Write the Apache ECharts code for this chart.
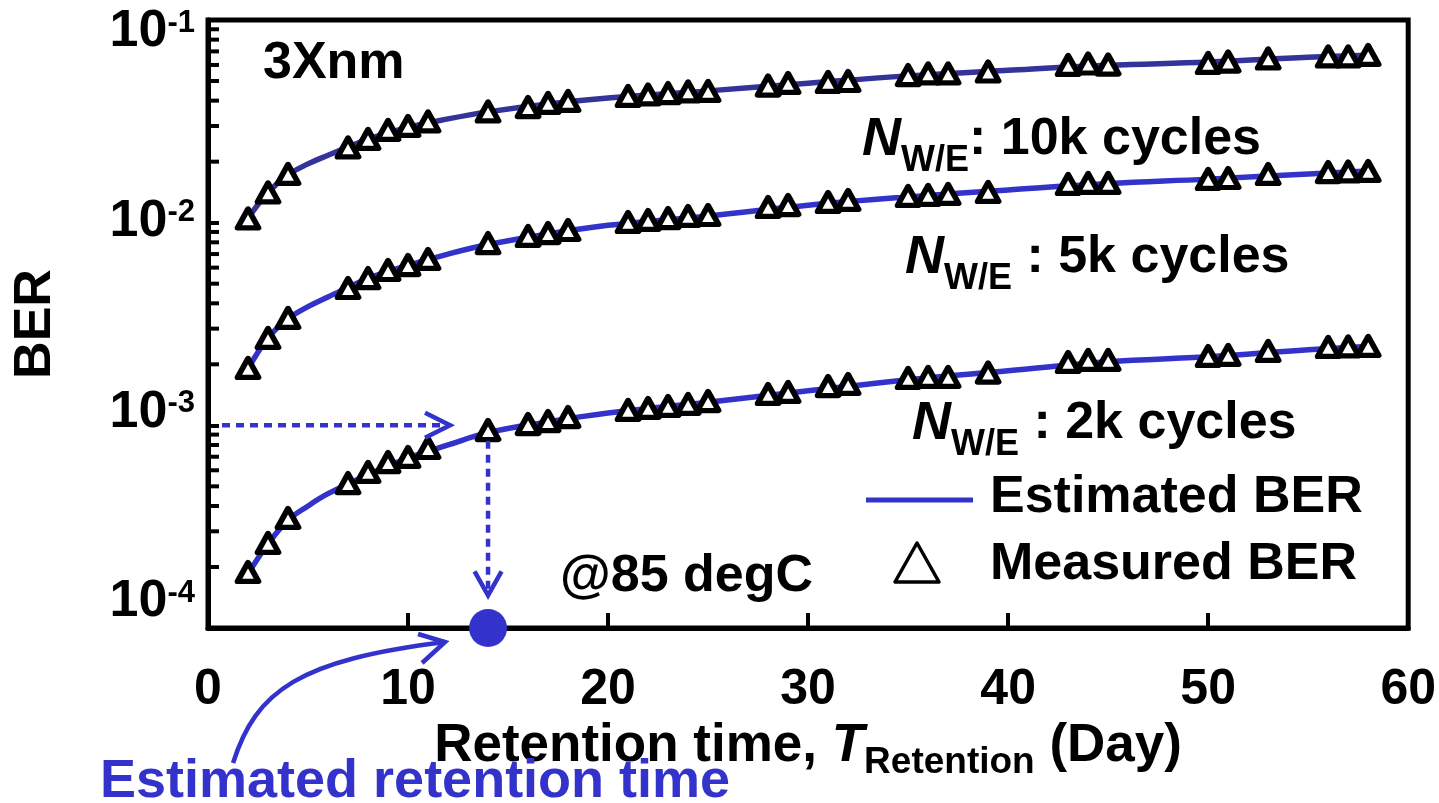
<!DOCTYPE html>
<html><head><meta charset="utf-8">
<script src="https://cdn.jsdelivr.net/npm/echarts@6/dist/echarts.min.js"></script>
<style>html,body{margin:0;padding:0;background:#fff}#c{width:1439px;height:803px}</style>
</head><body><div id="c"></div>
<script>
// ---------------- data ----------------
const days = [2,3,4,7,8,9,10,11,14,16,17,18,21,22,23,24,25,28,29,31,32,35,36,37,39,43,44,45,50,51,53,56,57,58];
const ber10k = [1.05e-2,1.41e-2,1.74e-2,2.35e-2,2.59e-2,2.87e-2,3.0e-2,3.16e-2,3.54e-2,3.72e-2,3.9e-2,3.99e-2,4.22e-2,4.29e-2,4.36e-2,4.44e-2,4.47e-2,4.75e-2,4.89e-2,4.95e-2,5.0e-2,5.35e-2,5.45e-2,5.45e-2,5.57e-2,6.0e-2,6.1e-2,6.03e-2,6.14e-2,6.24e-2,6.46e-2,6.61e-2,6.61e-2,6.72e-2];
const ber5k = [1.92e-3,2.70e-3,3.39e-3,4.76e-3,5.33e-3,5.84e-3,6.18e-3,6.62e-3,7.93e-3,8.60e-3,8.89e-3,9.20e-3,1.008e-2,1.031e-2,1.054e-2,1.079e-2,1.091e-2,1.195e-2,1.222e-2,1.265e-2,1.294e-2,1.355e-2,1.370e-2,1.386e-2,1.418e-2,1.553e-2,1.570e-2,1.570e-2,1.643e-2,1.661e-2,1.739e-2,1.778e-2,1.789e-2,1.799e-2];
const ber2k = [1.89e-4,2.63e-4,3.49e-4,5.19e-4,5.89e-4,6.59e-4,6.98e-4,7.73e-4,9.48e-4,1.015e-3,1.050e-3,1.099e-3,1.191e-3,1.218e-3,1.246e-3,1.275e-3,1.318e-3,1.428e-3,1.461e-3,1.563e-3,1.600e-3,1.713e-3,1.733e-3,1.733e-3,1.822e-3,2.054e-3,2.102e-3,2.102e-3,2.199e-3,2.225e-3,2.329e-3,2.437e-3,2.451e-3,2.465e-3];

const estDays = [2,3,4,5,6,8,10,12,14,17,20,25,30,35,40,45,50,55,58];
const est10k = [1.05e-2,1.41e-2,1.72e-2,1.95e-2,2.15e-2,2.58e-2,2.95e-2,3.25e-2,3.52e-2,3.85e-2,4.12e-2,4.47e-2,4.88e-2,5.3e-2,5.65e-2,5.98e-2,6.2e-2,6.55e-2,6.7e-2];
const est5k = [1.9e-3,2.7e-3,3.35e-3,3.85e-3,4.3e-3,5.3e-3,6.15e-3,7.0e-3,7.8e-3,8.8e-3,9.7e-3,1.08e-2,1.22e-2,1.34e-2,1.45e-2,1.56e-2,1.64e-2,1.74e-2,1.8e-2];
const est2k = [1.85e-4,2.6e-4,3.4e-4,4.0e-4,4.6e-4,5.7e-4,6.9e-4,8.0e-4,9.2e-4,1.04e-3,1.15e-3,1.3e-3,1.48e-3,1.68e-3,1.86e-3,2.06e-3,2.18e-3,2.36e-3,2.45e-3];

const xTickLabels = ['0','10','20','30','40','50','60'];
const yTickExponents = [-4,-3,-2,-1];
const yMinorTicks = [2e-4,3e-4,4e-4,5e-4,6e-4,7e-4,8e-4,9e-4,
                     2e-3,3e-3,4e-3,5e-3,6e-3,7e-3,8e-3,9e-3,
                     2e-2,3e-2,4e-2,5e-2,6e-2,7e-2,8e-2,9e-2];

const retentionDay = 14;      // estimated retention time (dot)
const targetBER = 1e-3;       // horizontal dotted arrow level
const hArrowEndDay = 12.1;
const vArrowFromBER = 8.4e-4;
const vArrowToBER = 1.45e-4;

// ---------------- styling ----------------
const FONT = '"Liberation Sans", Arial, Helvetica, sans-serif';
const BLUE = '#3333CC';
const NAVY = '#333399';
const zip = (xs, ys) => xs.map((x, i) => [x, ys[i]]);

const yLabelShift = { '-1': 12, '-2': -1, '-3': -13, '-4': -26 };
const yRich = {};
yTickExponents.forEach(e => {
  const k = -e, d = yLabelShift[e], ds = d - 9;
  yRich['b' + k] = { fontSize: 52, fontWeight: 'bold', fontFamily: FONT, color: '#000',
    padding: d >= 0 ? [2 * d, 0, 0, 0] : [0, 0, -2 * d, 0] };
  yRich['s' + k] = { fontSize: 31, fontWeight: 'bold', fontFamily: FONT, color: '#000',
    padding: ds >= 0 ? [2 * ds, 0, 0, 0] : [0, 0, -2 * ds, 0] };
});

const chart = echarts.init(document.getElementById('c'));

const triStyle = { color: '#fff', borderColor: '#000', borderWidth: 5.5, borderJoin: 'round', opacity: 1 };

chart.setOption({
  animation: false,
  backgroundColor: '#fff',
  grid: { left: 208, right: 29, top: 20, bottom: 175, show: true, borderColor: '#000', borderWidth: 5 },
  xAxis: {
    type: 'value', min: 0, max: 60, interval: 10,
    axisLine: { onZero: false, lineStyle: { color: '#000', width: 5 } },
    axisTick: { inside: true, length: 15, lineStyle: { color: '#000', width: 4 } },
    splitLine: { show: false },
    axisLabel: { margin: 37, fontSize: 50, fontWeight: 'bold', fontFamily: FONT, color: '#000',
      formatter: v => xTickLabels[Math.round(v / 10)] },
    name: '{a|Retention time, }{i|T}{r|Retention}{a| (Day)}',
    nameLocation: 'middle', nameGap: 77,
    nameTextStyle: { rich: {
      a: { fontSize: 53, fontWeight: 'bold', fontFamily: FONT, color: '#000' },
      i: { fontSize: 53, fontWeight: 'bold', fontStyle: 'italic', fontFamily: FONT, color: '#000' },
      r: { fontSize: 37, fontWeight: 'bold', fontFamily: FONT, color: '#000', padding: [32, 0, 0, 0] }
    } }
  },
  yAxis: {
    type: 'log', logBase: 10, min: 1e-4, max: 1e-1,
    axisLine: { show: true, lineStyle: { color: '#000', width: 5 } },
    axisTick: { show: true, inside: true, length: 11, lineStyle: { color: '#000', width: 4 } },
    splitLine: { show: false },
    axisLabel: { margin: 13, rich: yRich,
      formatter: v => { const e = Math.round(Math.log10(v)); return '{b' + (-e) + '|10}{s' + (-e) + '|' + e + '}'; } },
    name: 'BER', nameLocation: 'middle', nameGap: 146, nameRotate: 90,
    nameTextStyle: { fontSize: 52, fontWeight: 'bold', fontFamily: FONT, color: '#000' }
  },
  series: [
    { type: 'line', data: zip(estDays, est10k), smooth: 0.4, symbol: 'none', lineStyle: { color: NAVY, width: 5.5 }, z: 2 },
    { type: 'line', data: zip(estDays, est5k), smooth: 0.4, symbol: 'none', lineStyle: { color: BLUE, width: 5.5 }, z: 2 },
    { type: 'line', data: zip(estDays, est2k), smooth: 0.4, symbol: 'none', lineStyle: { color: BLUE, width: 5.5 }, z: 2 },
    { type: 'scatter', data: zip(days, ber10k), symbol: 'triangle', symbolSize: [21, 19], itemStyle: triStyle, z: 3 },
    { type: 'scatter', data: zip(days, ber5k), symbol: 'triangle', symbolSize: [21, 19], itemStyle: triStyle, z: 3 },
    { type: 'scatter', data: zip(days, ber2k), symbol: 'triangle', symbolSize: [21, 19], itemStyle: triStyle, z: 3 },
    { type: 'scatter', data: [[retentionDay, 1e-4]], symbol: 'circle', symbolSize: 38, itemStyle: { color: BLUE, opacity: 1 }, clip: false, z: 6 },
    { type: 'custom', silent: true, clip: false, z: 5,
      data: yMinorTicks.map(v => [0, v]),
      renderItem: (params, api) => {
        const p = api.coord([0, api.value(1)]);
        return { type: 'line', shape: { x1: p[0], y1: p[1], x2: p[0] + 11, y2: p[1] },
                 style: { stroke: '#000', lineWidth: 4 } };
      } }
  ]
});

// ---------------- annotations ----------------
const P = (x, y) => chart.convertToPixel({ gridIndex: 0 }, [x, y]);
const h0 = P(0, targetBER), h1 = P(hArrowEndDay, targetBER);
const v0 = P(retentionDay, vArrowFromBER), v1 = P(retentionDay, vArrowToBER);
const dot = P(retentionDay, 1e-4);
const dash = { stroke: BLUE, lineWidth: 4.5, lineDash: [8, 6], fill: null };
const solid = { stroke: BLUE, lineWidth: 4.5, fill: null };

const nRich = {
  n: { fontSize: 54, fontWeight: 'bold', fontStyle: 'italic', fontFamily: FONT, fill: '#000' },
  s: { fontSize: 36, fontWeight: 'bold', fontFamily: FONT, fill: '#000', padding: [42, 0, 0, 0] },
  t: { fontSize: 52, fontWeight: 'bold', fontFamily: FONT, fill: '#000' }
};
const txt = (x, y, text, extra) => ({
  type: 'text', x, y, z: 100,
  style: Object.assign({ text, fontSize: 52, fontWeight: 'bold', fontFamily: FONT, fill: '#000',
                         align: 'left', verticalAlign: 'middle' }, extra || {})
});

const cx = dot[0], cy = dot[1];
chart.setOption({
  graphic: [
    txt(263, 64, '3Xnm'),
    txt(862, 140, '{n|N}{s|W/E}{t|: 10k cycles}', { rich: nRich }),
    txt(905, 258, '{n|N}{s|W/E}{t| : 5k cycles}', { rich: nRich }),
    txt(912, 424, '{n|N}{s|W/E}{t| : 2k cycles}', { rich: nRich }),
    txt(990, 498, 'Estimated BER'),
    txt(990, 565, 'Measured BER'),
    txt(560, 577, '@85 degC'),
    txt(100, 782, 'Estimated retention time', { fill: BLUE, fontSize: 54 }),
    // legend marks
    { type: 'line', z: 100, shape: { x1: 866, y1: 500, x2: 973, y2: 500 }, style: { stroke: BLUE, lineWidth: 5 } },
    { type: 'polygon', z: 100, shape: { points: [[917, 543], [939, 582], [895, 582]] },
      style: { fill: '#fff', stroke: '#000', lineWidth: 3.5, lineJoin: 'round' } },
    // horizontal dotted arrow
    { type: 'line', z: 100, shape: { x1: h0[0] + 14, y1: h0[1], x2: h1[0] - 4, y2: h1[1] }, style: dash },
    { type: 'polyline', z: 100, shape: { points: [[h1[0] - 25, h1[1] - 12.5], [h1[0], h1[1]], [h1[0] - 25, h1[1] + 12.5]] }, style: solid },
    // vertical dotted arrow
    { type: 'line', z: 100, shape: { x1: v0[0], y1: v0[1], x2: v1[0], y2: v1[1] - 4 }, style: dash },
    { type: 'polyline', z: 100, shape: { points: [[v1[0] - 13.5, v1[1] - 24], [v1[0], v1[1]], [v1[0] + 13.5, v1[1] - 24]] }, style: solid },
    // curved arrow from the caption to the dot
    { type: 'bezierCurve', z: 100, shape: { x1: cx - 255, y1: cy + 135, cpx1: cx - 232, cpy1: cy + 62,
        cpx2: cx - 188, cpy2: cy + 32, x2: cx - 43, y2: cy + 14 }, style: solid },
    { type: 'polyline', z: 100, shape: { points: [[cx - 70, cy + 6], [cx - 43, cy + 14], [cx - 66, cy + 35]] }, style: solid }
  ]
});
</script>
</body></html>
